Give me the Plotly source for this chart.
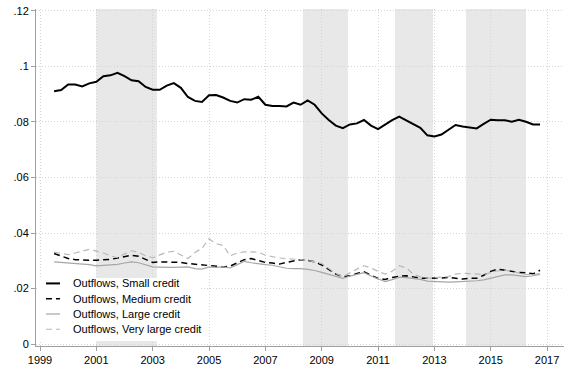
import plotly.graph_objects as go

start_year = 1999.5
small = [0.0911, 0.0915, 0.0935, 0.0935, 0.0928, 0.0939, 0.0945, 0.0965, 0.0968, 0.0977,
         0.0965, 0.0950, 0.0947, 0.0926, 0.0916, 0.0916, 0.0931, 0.0940, 0.0923, 0.0890,
         0.0876, 0.0872, 0.0896, 0.0897, 0.0888, 0.0876, 0.0870, 0.0882, 0.0880, 0.0891,
         0.0862, 0.0858, 0.0858, 0.0856, 0.0870, 0.0862, 0.0878, 0.0862, 0.0831, 0.0807,
         0.0787, 0.0778, 0.0791, 0.0795, 0.0807, 0.0787, 0.0774, 0.0790, 0.0807, 0.0819,
         0.0805, 0.0793, 0.0779, 0.0752, 0.0748, 0.0755, 0.0772, 0.0789, 0.0784, 0.0781,
         0.0777, 0.0793, 0.0808, 0.0806, 0.0806, 0.0801, 0.0808, 0.0801, 0.0791, 0.0791]
medium = [0.0326, 0.0318, 0.0308, 0.0304, 0.0302, 0.0302, 0.0302, 0.0303, 0.0305, 0.0310,
          0.0316, 0.0320, 0.0316, 0.0305, 0.0294, 0.0296, 0.0296, 0.0296, 0.0294, 0.0290,
          0.0288, 0.0284, 0.0284, 0.0280, 0.0278, 0.0281, 0.0292, 0.0304, 0.0308, 0.0300,
          0.0294, 0.0292, 0.0288, 0.0294, 0.0300, 0.0304, 0.0302, 0.0296, 0.0285, 0.0268,
          0.0252, 0.0243, 0.0246, 0.0254, 0.0260, 0.0248, 0.0236, 0.0233, 0.0240, 0.0244,
          0.0246, 0.0242, 0.0237, 0.0237, 0.0237, 0.0238, 0.0240, 0.0236, 0.0234, 0.0237,
          0.0237, 0.0248, 0.0262, 0.0270, 0.0266, 0.0260, 0.0258, 0.0257, 0.0253, 0.0266]
large = [0.0296, 0.0294, 0.0293, 0.0292, 0.0289, 0.0286, 0.0282, 0.0284, 0.0286, 0.0287,
         0.0292, 0.0296, 0.0293, 0.0285, 0.0278, 0.0277, 0.0276, 0.0276, 0.0277, 0.0278,
         0.0272, 0.0270, 0.0278, 0.0276, 0.0278, 0.0274, 0.0286, 0.0298, 0.0293, 0.0289,
         0.0286, 0.0284, 0.0278, 0.0273, 0.0272, 0.0272, 0.0269, 0.0265, 0.0258, 0.0251,
         0.0244, 0.0237, 0.0245, 0.0252, 0.0257, 0.0245, 0.0234, 0.0225, 0.0232, 0.0241,
         0.0239, 0.0237, 0.0233, 0.0227, 0.0225, 0.0224, 0.0223, 0.0224, 0.0225, 0.0226,
         0.0228, 0.0231, 0.0237, 0.0243, 0.0249, 0.0249, 0.0246, 0.0243, 0.0246, 0.0251]
very_large = [0.0331, 0.0326, 0.0322, 0.0328, 0.0335, 0.0341, 0.0335, 0.0328, 0.0318, 0.0311,
              0.0325, 0.0336, 0.0330, 0.0318, 0.0311, 0.0321, 0.0331, 0.0334, 0.0320, 0.0308,
              0.0330, 0.0345, 0.0379, 0.0362, 0.0355, 0.0318, 0.0328, 0.0332, 0.0332, 0.0331,
              0.0320, 0.0314, 0.0310, 0.0308, 0.0306, 0.0305, 0.0302, 0.0296, 0.0290, 0.0272,
              0.0255, 0.0243, 0.0258, 0.0270, 0.0282, 0.0274, 0.0262, 0.0252, 0.0262, 0.0282,
              0.0274, 0.0252, 0.0242, 0.0237, 0.0239, 0.0242, 0.0243, 0.0252, 0.0255, 0.0254,
              0.0252, 0.0250, 0.0258, 0.0264, 0.0266, 0.0261, 0.0254, 0.0251, 0.0249, 0.0255]

years = [start_year + 0.25 * i for i in range(len(small))]

band_starts = [2001.0, 2008.33, 2011.6, 2014.12]
band_ends = [2003.15, 2009.93, 2012.95, 2016.25]

x_ticks = list(range(1999, 2018, 2))
y_ticks = [0, 0.02, 0.04, 0.06, 0.08, 0.10, 0.12]
y_tick_labels = ["0", ".02", ".04", ".06", ".08", ".1", ".12"]

series_names = ["Outflows, Small credit", "Outflows, Medium credit",
                "Outflows, Large credit", "Outflows, Very large credit"]
series_values = [small, medium, large, very_large]
series_styles = [dict(color="black", width=2),
                 dict(color="black", width=1.5, dash="6px,4px"),
                 dict(color="#a6a6a6", width=1.2),
                 dict(color="#b8b8b8", width=1.2, dash="6px,4px")]

fig = go.Figure()
for name, vals, style in zip(series_names, series_values, series_styles):
    fig.add_trace(go.Scatter(x=years, y=vals, mode="lines", name=name,
                             line=style, showlegend=False))

for s, e in zip(band_starts, band_ends):
    fig.add_shape(type="rect", xref="x", yref="paper", x0=s, x1=e, y0=0, y1=1,
                  fillcolor="#e8e8e8", line=dict(width=0), layer="between")

# Manual legend (white box inside plot, bottom-left)
fig.add_shape(type="rect", xref="paper", yref="paper", x0=0.002, x1=0.31, y0=0.0146, y1=0.2018,
              fillcolor="white", line=dict(width=0), layer="above")
legend_rows = [0.1857, 0.1404, 0.0950, 0.0497]
for name, style, yy in zip(series_names, series_styles, legend_rows):
    fig.add_shape(type="line", xref="paper", yref="paper", x0=0.0189, x1=0.0455, y0=yy, y1=yy,
                  line=style, layer="above")
    fig.add_annotation(xref="paper", yref="paper", x=0.0663, y=yy, text=name,
                       xanchor="left", yanchor="middle", showarrow=False,
                       font=dict(size=11, color="black"))

fig.update_layout(
    width=570, height=371,
    margin=dict(l=36, r=6, t=5, b=24),
    paper_bgcolor="white", plot_bgcolor="white",
    font=dict(family="Liberation Sans, Arial, sans-serif", size=11, color="black"),
    showlegend=False,
)
fig.update_xaxes(range=[1998.858, 2017.6], tickvals=x_ticks, ticktext=[str(t) for t in x_ticks],
                 showgrid=True, gridcolor="#d4d4d4", griddash="1px,2px", gridwidth=1,
                 showline=True, linecolor="#a0a0a0", linewidth=1,
                 ticks="outside", ticklen=4, tickcolor="#a0a0a0", zeroline=False)
fig.update_yaxes(range=[-0.0007, 0.1207], tickvals=y_ticks, ticktext=y_tick_labels,
                 showgrid=True, gridcolor="#d4d4d4", griddash="1px,2px", gridwidth=1,
                 showline=True, linecolor="#a0a0a0", linewidth=1,
                 ticks="outside", ticklen=4, tickcolor="#a0a0a0", zeroline=False)

fig.write_html("out.html")
